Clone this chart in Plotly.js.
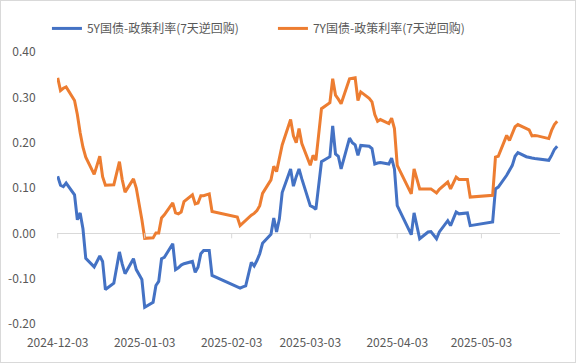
<!DOCTYPE html>
<html>
<head>
<meta charset="utf-8">
<script src="https://cdn.plot.ly/plotly-3.0.1.min.js"></script>
<style>
html,body{margin:0;padding:0;background:#fff;}
#wrap{width:576px;height:363px;box-sizing:border-box;border:1px solid #d9d9d9;overflow:hidden;}
#chart{width:574px;height:361px;}
</style>
</head>
<body>
<div id="wrap"><div id="chart"></div></div>
<script>
const dates = [
'2024-12-03','2024-12-04','2024-12-05','2024-12-06','2024-12-09','2024-12-10','2024-12-11','2024-12-12','2024-12-13',
'2024-12-16','2024-12-17','2024-12-18','2024-12-19','2024-12-20','2024-12-23','2024-12-24','2024-12-25','2024-12-26','2024-12-27',
'2024-12-30','2024-12-31','2025-01-02','2025-01-03','2025-01-06','2025-01-07','2025-01-08','2025-01-09','2025-01-10',
'2025-01-13','2025-01-14','2025-01-15','2025-01-16','2025-01-17','2025-01-20','2025-01-21','2025-01-22','2025-01-23','2025-01-24',
'2025-01-26','2025-01-27','2025-02-05','2025-02-06','2025-02-07','2025-02-08','2025-02-10','2025-02-11','2025-02-12','2025-02-13','2025-02-14',
'2025-02-17','2025-02-18','2025-02-19','2025-02-20','2025-02-21','2025-02-24','2025-02-25','2025-02-26','2025-02-27','2025-02-28',
'2025-03-03','2025-03-04','2025-03-05','2025-03-07','2025-03-10','2025-03-11','2025-03-12','2025-03-13','2025-03-14',
'2025-03-17','2025-03-18','2025-03-19','2025-03-20','2025-03-21','2025-03-24','2025-03-25','2025-03-26','2025-03-27','2025-03-28',
'2025-03-31','2025-04-01','2025-04-02','2025-04-03','2025-04-08','2025-04-09','2025-04-11','2025-04-14','2025-04-15','2025-04-17','2025-04-18',
'2025-04-21','2025-04-22','2025-04-24','2025-04-25','2025-04-28','2025-04-29','2025-05-07','2025-05-08','2025-05-09',
'2025-05-12','2025-05-13','2025-05-14','2025-05-15','2025-05-16','2025-05-19','2025-05-20','2025-05-21','2025-05-22','2025-05-23',
'2025-05-26','2025-05-27','2025-05-28','2025-05-29','2025-05-30'
];
const spread5Y = [
0.126,0.106,0.103,0.111,0.085,0.030,0.045,0.010,-0.055,
-0.074,-0.062,-0.050,-0.062,-0.124,-0.110,-0.075,-0.041,-0.068,-0.089,
-0.056,-0.080,-0.102,-0.163,-0.152,-0.115,-0.106,-0.056,-0.053,
-0.023,-0.080,-0.076,-0.070,-0.067,-0.062,-0.086,-0.075,-0.045,-0.038,
-0.038,-0.093,-0.119,-0.121,-0.118,-0.116,-0.064,-0.072,-0.060,-0.045,-0.022,
-0.002,0.034,0.003,0.032,0.090,0.142,0.104,0.125,0.142,0.120,
0.061,0.058,0.053,0.158,0.169,0.237,0.175,0.170,0.142,
0.210,0.200,0.195,0.172,0.194,0.192,0.187,0.153,0.155,0.156,
0.153,0.166,0.142,0.061,-0.003,0.045,-0.012,0.003,0.004,-0.012,0.003,
0.028,0.017,0.047,0.043,0.045,0.017,0.025,0.098,0.102,
0.128,0.139,0.150,0.170,0.178,0.169,0.167,0.166,0.165,0.164,
0.162,0.161,0.172,0.185,0.192
];
const spread7Y = [
0.343,0.315,0.320,0.323,0.293,0.262,0.222,0.190,0.168,
0.130,0.150,0.170,0.125,0.106,0.107,0.132,0.158,0.118,0.091,
0.120,0.100,0.030,-0.011,-0.010,0.001,0.001,0.034,0.041,
0.067,0.045,0.043,0.047,0.070,0.085,0.065,0.067,0.083,0.083,
0.087,0.048,0.036,0.017,0.023,0.030,0.040,0.044,0.050,0.061,0.088,
0.118,0.148,0.136,0.164,0.195,0.251,0.215,0.200,0.231,0.198,
0.150,0.172,0.161,0.275,0.288,0.341,0.305,0.296,0.286,
0.341,0.342,0.343,0.293,0.312,0.298,0.290,0.262,0.247,0.251,
0.242,0.254,0.231,0.150,0.087,0.142,0.098,0.098,0.098,0.089,0.097,
0.113,0.098,0.124,0.119,0.119,0.080,0.084,0.168,0.170,
0.216,0.205,0.222,0.235,0.240,0.232,0.228,0.215,0.216,0.215,
0.210,0.209,0.227,0.240,0.247
];
const seriesNames = ['5Y国债-政策利率(7天逆回购)','7Y国债-政策利率(7天逆回购)'];
const xTickVals = ['2024-12-03','2025-01-03','2025-02-03','2025-03-03','2025-04-03','2025-05-03'];
const yTickVals = [-0.2,-0.1,0,0.1,0.2,0.3,0.4];
const yTickText = ['-0.20','-0.10','0.00','0.10','0.20','0.30','0.40'];

const font = 'Noto Sans CJK SC, Noto Sans, sans-serif';
const traces = [
  {x: dates, y: spread5Y, name: seriesNames[0], type: 'scatter', mode: 'lines',
   line: {color: '#4472C4', width: 3}},
  {x: dates, y: spread7Y, name: seriesNames[1], type: 'scatter', mode: 'lines',
   line: {color: '#ED7D31', width: 3}}
];
const tickShapes = xTickVals.map(d => ({
  type: 'line', xref: 'x', yref: 'y', x0: d, x1: d,
  ysizemode: 'pixel', yanchor: 0, y0: 0, y1: -5,
  line: {color: '#d9d9d9', width: 1}
}));
const layout = {
  width: 574, height: 361,
  margin: {l: 56, r: 15, t: 51, b: 38},
  paper_bgcolor: '#fff', plot_bgcolor: '#fff',
  font: {family: font, size: 12, color: '#595959'},
  showlegend: true,
  legend: {orientation: 'h', x: -0.02, xanchor: 'left', y: 1.14, yanchor: 'top',
           font: {family: font, size: 12, color: '#595959'},
           entrywidth: 181, entrywidthmode: 'pixels', tracegroupgap: 0},
  xaxis: {type: 'date', range: ['2024-12-02 18:00', '2025-05-31 00:00'],
          tickvals: xTickVals, ticktext: xTickVals,
          showgrid: false, zeroline: false, showline: false,
          ticks: 'outside', ticklen: 8, tickcolor: 'rgba(0,0,0,0)',
          tickfont: {family: font, size: 12, color: '#595959'}},
  yaxis: {range: [-0.2, 0.4], tickvals: yTickVals, ticktext: yTickText,
          showgrid: false, zeroline: true, zerolinecolor: '#d9d9d9', zerolinewidth: 1.5,
          showline: false, ticks: 'outside', ticklen: 18, tickcolor: 'rgba(0,0,0,0)',
          tickfont: {family: font, size: 12, color: '#595959'}},
  shapes: tickShapes
};
Plotly.newPlot('chart', traces, layout, {displayModeBar: false, staticPlot: true});
</script>
</body>
</html>
